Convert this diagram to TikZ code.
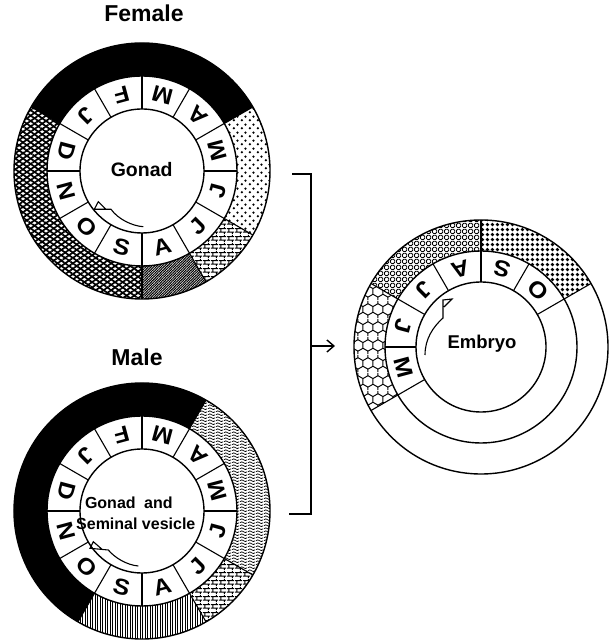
\documentclass[tikz,border=0pt]{standalone}
\usepackage{fontspec}
\setmainfont{Liberation Sans}
\usetikzlibrary{patterns.meta,arrows.meta}

\tikzdeclarepattern{name=sparsedots,type=uncolored,
  bottom left={(0pt,0pt)},top right={(8pt,8pt)},tile size={(8pt,8pt)},
  code={\fill (2pt,2pt) circle[radius=1.4pt]; \fill (6pt,6pt) circle[radius=1.4pt];}}
\tikzdeclarepattern{name=mybricks,type=uncolored,
  bottom left={(0pt,0pt)},top right={(7.5pt,8pt)},tile size={(7.5pt,8pt)},
  code={\draw[line width=1pt] (0pt,2pt) -- (7.5pt,2pt) (0pt,6pt) -- (7.5pt,6pt)
     (1.9pt,2pt) -- (1.9pt,6pt) (5.6pt,6pt) -- (5.6pt,8pt) (5.6pt,0pt) -- (5.6pt,2pt);}}
\tikzdeclarepattern{name=wavy,type=uncolored,
  bottom left={(0pt,0pt)},top right={(8pt,3.2pt)},tile size={(8pt,3.2pt)},
  code={\draw[line width=0.85pt] (0pt,1.6pt) .. controls (1.33pt,3pt) and (2.67pt,3pt) .. (4pt,1.6pt) .. controls (5.33pt,0.2pt) and (6.67pt,0.2pt) .. (8pt,1.6pt);}}
\tikzdeclarepattern{name=bolddots,type=uncolored,
  bottom left={(0pt,0pt)},top right={(5.4pt,5.4pt)},tile size={(5.4pt,5.4pt)},
  code={\fill (2.7pt,2.7pt) circle[radius=2pt];}}
\tikzdeclarepattern{name=lattice,type=uncolored,
  bottom left={(0pt,0pt)},top right={(6pt,6pt)},tile size={(6pt,6pt)},
  code={\draw[line width=0.9pt,rounded corners=1.5pt] (0.5pt,0.5pt) rectangle (5.5pt,5.5pt);}}
\tikzdeclarepattern{name=honeycomb,type=uncolored,
  bottom left={(0pt,0pt)},top right={(10.4pt,18pt)},tile size={(10.4pt,18pt)},
  code={\draw[line width=1pt] (5.2pt,0pt) -- (5.2pt,3pt) (0pt,6pt) -- (5.2pt,3pt) -- (10.4pt,6pt)
    (0pt,6pt) -- (0pt,12pt) (10.4pt,6pt) -- (10.4pt,12pt)
    (0pt,12pt) -- (5.2pt,15pt) -- (10.4pt,12pt) (5.2pt,15pt) -- (5.2pt,18pt);}}

\newcommand{\ringsec}[6]{\path[shift={(#1)},#6] (#2:#5pt) arc[start angle=#2,end angle=#3,radius=#5pt] -- (#3:#4pt) arc[start angle=#3,end angle=#2,radius=#4pt] -- cycle;}

\begin{document}
\begin{tikzpicture}[x=1pt,y=1pt,
  month/.style={font=\fontsize{22.5}{22.5}\selectfont\bfseries, inner sep=0pt},
  ringline/.style={line width=1.4pt},
  divline/.style={line width=1.1pt},
  title/.style={font=\fontsize{23}{23}\selectfont\bfseries, anchor=base, inner sep=0pt},
  clabel/.style={font=\fontsize{19.5}{19.5}\selectfont\bfseries, anchor=base, inner sep=0pt},
  slabel/.style={font=\fontsize{16}{16}\selectfont\bfseries, anchor=base, inner sep=0pt},
  cyclearrow/.style={line width=1.1pt, line join=miter},
  connector/.style={line width=1.4pt}
]
\useasboundingbox (0,0) rectangle (609,642);
\coordinate (fc) at (142,471);
\coordinate (mc) at (142,131);
\coordinate (ec) at (481,295);

% ---------- Female ----------
\ringsec{fc}{30}{150}{95}{128}{fill=black}
\ringsec{fc}{-30}{30}{95}{128}{pattern=sparsedots}
\ringsec{fc}{-60}{-30}{95}{128}{pattern=mybricks}
\ringsec{fc}{-90}{-60}{95}{128}{pattern={Lines[angle=45,distance=1.8pt,line width=1.1pt]}}
\ringsec{fc}{150}{270}{95}{128}{pattern={Lines[angle=35,distance=4.4pt,line width=1.7pt]}}
\ringsec{fc}{150}{270}{95}{128}{pattern={Lines[angle=-35,distance=4.4pt,line width=1.7pt]}}
\draw[ringline] (fc) circle[radius=128pt] (fc) circle[radius=95pt] (fc) circle[radius=62pt];
\foreach \a in {0,30,...,330} \draw[divline,shift={(fc)}] (\a:62pt) -- (\a:95pt);
\foreach \a in {30,150,-30,-60,-90} \draw[divline,shift={(fc)}] (\a:95pt) -- (\a:128pt);
\foreach \a/\m [count=\i] in {75/M,45/A,15/M,-15/J,-45/J,-75/A,-105/S,-135/O,-165/N,165/D,135/J,105/F}
  \node[month,rotate=\a+90] (fm\i) at ([shift={(\a:78.5pt)}]fc) {\scalebox{1.1}[1]{\m}};
\node[title] (ftitle) at (144,620.3) {Female};
\node[clabel] (flabel) at (141.7,465.3) {Gonad};
\draw[cyclearrow,shift={(fc)}] (1.3,-55.7) .. controls (-10,-55) and (-24,-48) .. (-31,-38.3) -- (-47.7,-38.3) -- (-43.7,-30.7) -- (-36,-38.3);

% ---------- Male ----------
\ringsec{mc}{60}{240}{95}{128}{fill=black}
\ringsec{mc}{-30}{60}{95}{128}{pattern=wavy}
\ringsec{mc}{-60}{-30}{95}{128}{pattern=mybricks}
\ringsec{mc}{-120}{-60}{95}{128}{pattern={Lines[angle=90,distance=2.5pt,line width=1pt]}}
\draw[ringline] (mc) circle[radius=128pt] (mc) circle[radius=95pt] (mc) circle[radius=62pt];
\foreach \a in {0,30,...,330} \draw[divline,shift={(mc)}] (\a:62pt) -- (\a:95pt);
\foreach \a in {60,240,-30,-60} \draw[divline,shift={(mc)}] (\a:95pt) -- (\a:128pt);
\foreach \a/\m [count=\i] in {75/M,45/A,15/M,-15/J,-45/J,-75/A,-105/S,-135/O,-165/N,165/D,135/J,105/F}
  \node[month,rotate=\a+90] (mm\i) at ([shift={(\a:78.5pt)}]mc) {\scalebox{1.1}[1]{\m}};
\node[title] (mtitle) at (137,276.7) {Male};
\node[slabel] (mlabel1) at (128.8,133.7) {Gonad\hspace{4pt} and};
\node[slabel] (mlabel2) at (135.8,112.7) {Seminal vesicle};
\draw[cyclearrow,shift={(mc)}] (-3.7,-55) .. controls (-15,-54) and (-27,-47) .. (-33.7,-39) -- (-52,-37.3) -- (-48.7,-30.7) -- (-40.3,-38);

% ---------- Embryo ----------
\ringsec{ec}{30}{90}{96}{127}{pattern=bolddots}
\ringsec{ec}{90}{150}{96}{127}{pattern=lattice}
\ringsec{ec}{150}{210}{96}{127}{pattern=honeycomb}
\draw[ringline] (ec) circle[radius=127pt] (ec) circle[radius=96pt] (ec) circle[radius=65pt];
\foreach \a in {30,90,150,210} \draw[divline,shift={(ec)}] (\a:65pt) -- (\a:127pt);
\foreach \a in {60,120,180} \draw[divline,shift={(ec)}] (\a:65pt) -- (\a:96pt);
\foreach \a/\m [count=\i] in {195/M,165/J,135/J,105/A,75/S,45/O}
  \node[month,rotate=\a+90] (em\i) at ([shift={(\a:80.5pt)}]ec) {\scalebox{1.1}[1]{\m}};
\node[clabel,font=\fontsize{18.5}{18.5}\selectfont\bfseries] (elabel) at (482,293.7) {Embryo};
\draw[cyclearrow,shift={(ec)}] (-56,-8) .. controls (-56,8) and (-48,20) .. (-38,29) -- (-38,47) -- (-29,48) -- (-37,40);

% ---------- Connector ----------
\coordinate (bt) at (292,468);
\coordinate (btc) at (311,468);
\coordinate (bbc) at (311,128);
\coordinate (bb) at (289,128);
\coordinate (bm) at (311,296);
\coordinate (ae) at (335,296);
\draw[connector] (bt) -- (btc) -- (bbc) -- (bb);
\draw[connector,-{Straight Barb[length=7pt,width=12pt]}] (bm) -- (ae);
\end{tikzpicture}
\end{document}
